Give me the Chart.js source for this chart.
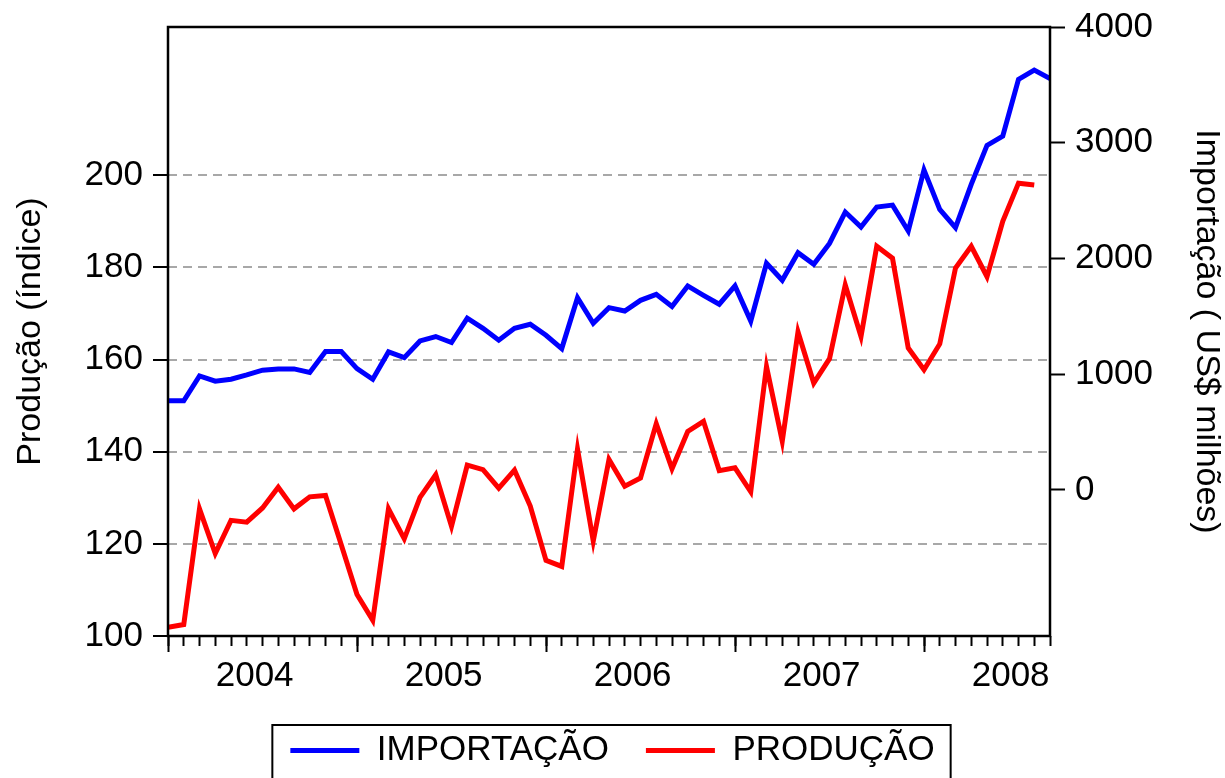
<!DOCTYPE html>
<html>
<head>
<meta charset="utf-8">
<script src="https://cdn.jsdelivr.net/npm/chart.js@4/dist/chart.umd.min.js"></script>
<style>
  html, body { margin: 0; padding: 0; background: #fff; }
</style>
</head>
<body>
<canvas id="chart" width="1225" height="778"></canvas>
<script>
// monthly series, Jan 2004 .. Sep 2008
const YEARS = ['2004', '2005', '2006', '2007', '2008'];

// US$ milhões (right axis)
const IMPORTACAO = [
  769, 769, 984, 939, 956, 993, 1034, 1045, 1045, 1014, 1195, 1195,
  1048, 956, 1192, 1143, 1287, 1325, 1273, 1483, 1396, 1293, 1396, 1431,
  1336, 1221, 1661, 1440, 1575, 1546, 1638, 1690, 1584, 1762, 1681, 1604,
  1762, 1459, 1958, 1811, 2050, 1949, 2130, 2401, 2271, 2444, 2461, 2237,
  2765, 2424, 2266, 2640, 2977, 3057, 3547, 3627, 3555
];

// índice (left axis), Sep 2008 missing
const PRODUCAO = [
  101.9, 102.5, 127.6, 117.9, 125.1, 124.7, 127.8, 132.3, 127.6, 130.2, 130.5, 119.8,
  109.0, 103.4, 127.6, 121.1, 130.1, 135.0, 123.8, 137.1, 136.1, 132.1, 136.0, 128.2,
  116.4, 115.1, 140.6, 120.6, 138.3, 132.5, 134.3, 146.1, 136.3, 144.4, 146.6, 135.9,
  136.5, 131.3, 158.5, 142.3, 166.0, 154.9, 160.2, 176.2, 165.0, 184.6, 182.0, 162.5,
  157.8, 163.4, 179.9, 184.6, 178.0, 190.0, 198.3, 197.9, null
];

const LEFT_TICKS = [100, 120, 140, 160, 180, 200];
const RIGHT_TICKS = [0, 1000, 2000, 3000, 4000];

const FONT = "'Liberation Sans', Arial, sans-serif";
Chart.defaults.font.family = FONT;
Chart.defaults.color = '#000';

const lastIdx = IMPORTACAO.length - 1;
const toPoints = arr => arr.map((v, i) => ({ x: i, y: v }));

// fix an axis' thickness so the plot box sits where the reference has it
function fixSize(prop, size) {
  return function (scale) {
    scale[prop] = size;
    scale.paddingLeft = scale.paddingRight = scale.paddingTop = scale.paddingBottom = 0;
  };
}

const framePlugin = {
  id: 'frame',
  afterDatasetsDraw(chart) {
    const { ctx, chartArea: a } = chart;
    ctx.save();
    ctx.strokeStyle = '#000';
    ctx.lineWidth = 2.5;
    ctx.strokeRect(a.left, a.top, a.right - a.left, a.bottom - a.top);
    ctx.restore();
  }
};

const legendBoxPlugin = {
  id: 'legendBox',
  afterDraw(chart) {
    const lg = chart.legend;
    const hb = lg && lg.legendHitBoxes;
    if (!hb || !hb.length) return;
    const first = hb[0], last = hb[hb.length - 1];
    const x0 = first.left - 18, x1 = last.left + last.width + 16;
    const y0 = lg.top + 29;
    const ctx = chart.ctx;
    ctx.save();
    ctx.strokeStyle = '#000';
    ctx.lineWidth = 2;
    ctx.strokeRect(x0, y0, x1 - x0, chart.height + 10 - y0);
    ctx.restore();
  }
};

new Chart(document.getElementById('chart').getContext('2d'), {
  type: 'line',
  data: {
    datasets: [
      {
        label: 'IMPORTAÇÃO',
        data: toPoints(IMPORTACAO),
        xAxisID: 'x',
        yAxisID: 'yR',
        borderColor: '#0000ff',
        backgroundColor: '#0000ff',
        borderWidth: 5,
        pointRadius: 0,
        tension: 0,
        fill: false
      },
      {
        label: 'PRODUÇÃO',
        data: toPoints(PRODUCAO),
        xAxisID: 'x',
        yAxisID: 'yL',
        borderColor: '#ff0000',
        backgroundColor: '#ff0000',
        borderWidth: 5,
        pointRadius: 0,
        tension: 0,
        fill: false
      }
    ]
  },
  options: {
    responsive: false,
    animation: false,
    layout: { padding: { top: 27, left: 0, right: 0, bottom: 0 } },
    plugins: {
      tooltip: { enabled: false },
      legend: {
        position: 'bottom',
        labels: {
          usePointStyle: true,
          pointStyle: 'line',
          pointStyleWidth: 69,
          padding: 37,
          color: '#000',
          font: { size: 35 }
        }
      }
    },
    scales: {
      // monthly minor ticks
      x: {
        type: 'linear',
        position: 'bottom',
        weight: 0,
        min: 0,
        max: lastIdx,
        afterBuildTicks: s => { s.ticks = IMPORTACAO.map((v, i) => ({ value: i })); },
        afterFit: fixSize('height', 0),
        ticks: { display: false, autoSkip: false },
        grid: { drawOnChartArea: false, tickLength: 10, tickWidth: 2, tickColor: '#000' },
        border: { display: false }
      },
      // year ticks + labels
      x2: {
        type: 'linear',
        position: 'bottom',
        weight: 1,
        min: 0,
        max: lastIdx,
        afterBuildTicks: s => {
          const t = [];
          YEARS.forEach((y, k) => { t.push({ value: 12 * k }); t.push({ value: 12 * k + 5.5 }); });
          s.ticks = t;
        },
        afterFit: fixSize('height', 60),
        ticks: {
          autoSkip: false,
          maxRotation: 0,
          minRotation: 0,
          padding: 3,
          font: { size: 35 },
          callback: v => (v % 12 === 5.5 ? YEARS[Math.floor(v / 12)] : '')
        },
        grid: {
          drawOnChartArea: false,
          tickLength: 16,
          tickWidth: 2,
          tickColor: c => (c.tick && c.tick.value % 12 === 0 ? '#000' : 'rgba(0,0,0,0)')
        },
        border: { display: false }
      },
      yL: {
        type: 'linear',
        position: 'left',
        min: 100,
        max: 232.2,
        afterBuildTicks: s => { s.ticks = LEFT_TICKS.map(v => ({ value: v })); },
        afterFit: fixSize('width', 168),
        ticks: { padding: 10, font: { size: 35 }, callback: v => String(v) },
        grid: { color: '#a8a8a8', lineWidth: 2, tickLength: 15, tickWidth: 2, tickColor: '#000' },
        border: { display: false, dash: [9, 6] },
        title: {
          display: true,
          text: 'Produção (índice)',
          font: { size: 34, lineHeight: 1.1 },
          padding: { top: 12, bottom: 0 }
        }
      },
      yR: {
        type: 'linear',
        position: 'right',
        min: -1263,
        max: 4000,
        afterBuildTicks: s => { s.ticks = RIGHT_TICKS.map(v => ({ value: v })); },
        afterFit: fixSize('width', 175),
        ticks: { padding: 10, font: { size: 35 }, callback: v => String(v) },
        grid: { drawOnChartArea: false, tickLength: 15, tickWidth: 2, tickColor: '#000' },
        border: { display: false },
        title: {
          display: true,
          text: 'Importação ( US$ milhões)',
          font: { size: 34, lineHeight: 1.1 },
          padding: { top: 0, bottom: 0 }
        }
      }
    }
  },
  plugins: [framePlugin, legendBoxPlugin]
});
</script>
</body>
</html>
